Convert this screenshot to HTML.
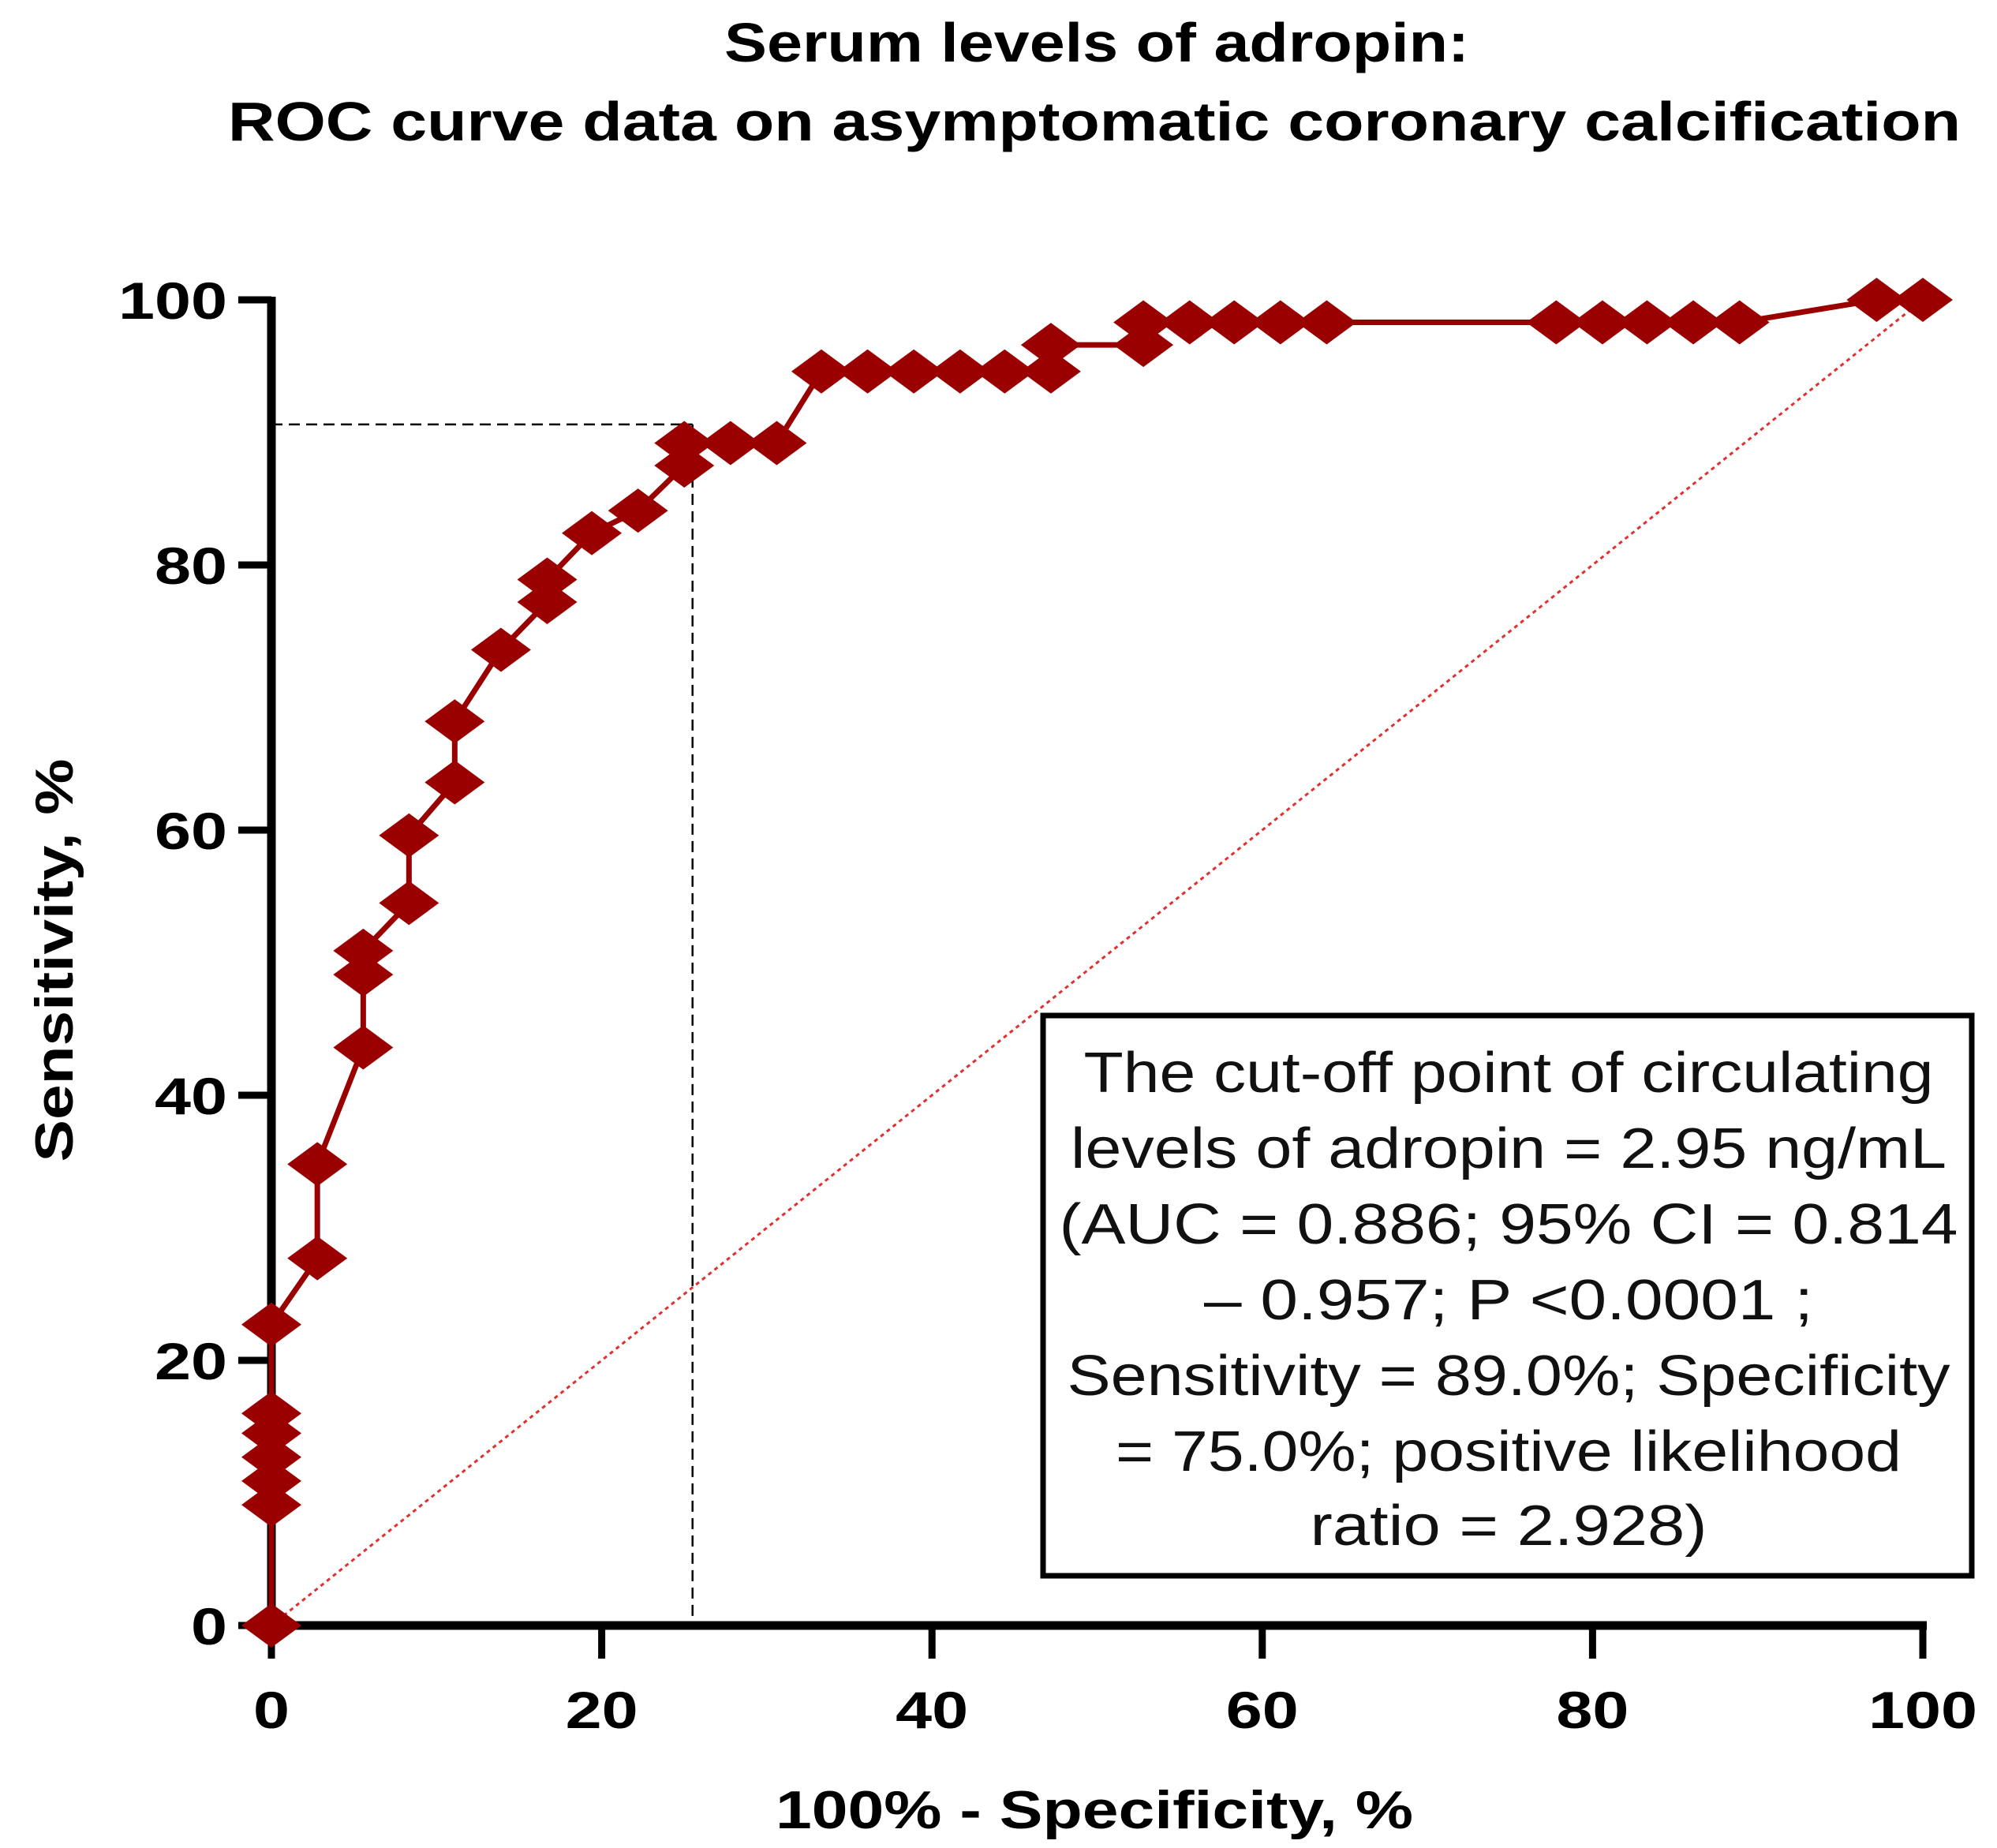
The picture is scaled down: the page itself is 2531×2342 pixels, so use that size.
<!DOCTYPE html>
<html><head><meta charset="utf-8"><style>
html,body{margin:0;padding:0;background:#fff;}
svg{display:block;}
text{font-family:"Liberation Sans",Arial,sans-serif;}
</style></head><body>
<svg id="chart" width="2531" height="2342" viewBox="0 0 2531 2342" xmlns="http://www.w3.org/2000/svg">
<rect width="2531" height="2342" fill="#fff"/>
<g>
<text x="1390" y="78" text-anchor="middle" font-size="70" font-weight="bold" textLength="944" lengthAdjust="spacingAndGlyphs">Serum levels of adropin:</text>
<text x="1387" y="178" text-anchor="middle" font-size="70" font-weight="bold" textLength="2196" lengthAdjust="spacingAndGlyphs">ROC curve data on asymptomatic coronary calcification</text>
</g>
<g id="grid"></g>
<g id="axes"></g>
<g id="marks"></g>
<g>
<rect x="1322" y="1287" width="1177" height="710" fill="#fff" stroke="#000" stroke-width="7"/>
<g font-size="72" text-anchor="middle" fill="#111">
<text x="1912" y="1384" textLength="1077" lengthAdjust="spacingAndGlyphs">The cut-off point of circulating</text>
<text x="1912" y="1480" textLength="1110" lengthAdjust="spacingAndGlyphs">levels of adropin = 2.95 ng/mL</text>
<text x="1912" y="1576" textLength="1139" lengthAdjust="spacingAndGlyphs">(AUC = 0.886; 95% CI = 0.814</text>
<text x="1912" y="1672" textLength="772" lengthAdjust="spacingAndGlyphs">– 0.957; P &lt;0.0001 ;</text>
<text x="1912" y="1768" textLength="1119" lengthAdjust="spacingAndGlyphs">Sensitivity = 89.0%; Specificity</text>
<text x="1912" y="1864" textLength="996" lengthAdjust="spacingAndGlyphs">= 75.0%; positive likelihood</text>
<text x="1912" y="1958" textLength="503" lengthAdjust="spacingAndGlyphs">ratio = 2.928)</text>
</g>
</g>
<text transform="translate(92,1217) rotate(-90)" text-anchor="middle" font-size="68" font-weight="bold" textLength="511" lengthAdjust="spacingAndGlyphs">Sensitivity, %</text>
<text x="1387" y="2317" text-anchor="middle" font-size="68" font-weight="bold" textLength="808" lengthAdjust="spacingAndGlyphs">100% - Specificity, %</text>
</svg>
<script>
const xVals = [0,0,0,0,0,0,0,2.78,2.78,5.56,5.56,5.56,8.33,8.33,11.1,11.1,13.9,16.7,16.7,19.4,22.2,25,25,27.8,30.6,33.3,36.1,38.9,41.7,44.4,47.2,47.2,52.8,52.8,55.6,58.3,61.1,63.9,77.8,80.6,83.3,86.1,88.9,97.2,100];
const yVals = [0,9.1,10.9,12.7,14.5,16.0,22.7,27.7,34.8,43.6,49.1,50.9,54.5,59.6,63.6,68.2,73.6,77.2,78.9,82.4,84.1,87.5,89.2,89.2,89.2,94.6,94.6,94.6,94.6,94.6,94.6,96.6,96.6,98.3,98.3,98.3,98.3,98.3,98.3,98.3,98.3,98.3,98.3,100,100];
const xTicks = [0,20,40,60,80,100];
const yTicks = [0,20,40,60,80,100];
const cutoff = [25.5, 90.6];
const X0=344,X1=2437,Y0=2060,Y1=380;
const sx=v=>X0+(X1-X0)*v/100;
const sy=v=>Y0-(Y0-Y1)*v/100;
const NS='http://www.w3.org/2000/svg';
function mk(tag,attrs,parent){const e=document.createElementNS(NS,tag);for(const k in attrs)e.setAttribute(k,attrs[k]);parent.appendChild(e);return e;}
const axes=document.getElementById('axes'), marks=document.getElementById('marks'), grid=document.getElementById('grid');
let l=mk('line',{x1:sx(0),y1:sy(0),x2:sx(100),y2:sy(100),stroke:'#e03030','stroke-width':3,'stroke-dasharray':'5 5'},grid);


l=mk('line',{x1:sx(0),y1:sy(cutoff[1]),x2:sx(cutoff[0]),y2:sy(cutoff[1]),stroke:'#000','stroke-width':2.5,'stroke-dasharray':'14 8'},grid);


l=mk('line',{x1:sx(cutoff[0]),y1:sy(cutoff[1]),x2:sx(cutoff[0]),y2:sy(0),stroke:'#000','stroke-width':2.5,'stroke-dasharray':'14 8'},grid);


l=mk('line',{x1:X0,y1:Y1-4,x2:X0,y2:Y0+6,stroke:'#000','stroke-width':11},axes);


l=mk('line',{x1:X0-6,y1:Y0,x2:X1+5,y2:Y0,stroke:'#000','stroke-width':11},axes);


yTicks.forEach(v=>{
  const t=mk('line',{x1:X0-42,y1:sy(v),x2:X0,y2:sy(v),stroke:'#000','stroke-width':9},axes);
  
  
  const tx=mk('text',{x:X0-56,y:sy(v)+24,'text-anchor':'end','font-size':66,'font-weight':'bold',textLength:String(v).length*46,lengthAdjust:'spacingAndGlyphs'},axes);
  tx.textContent=v;
  
  
});
xTicks.forEach(v=>{
  const t=mk('line',{x1:sx(v),y1:Y0,x2:sx(v),y2:Y0+42,stroke:'#000','stroke-width':9},axes);
  
  
  const tx=mk('text',{x:sx(v),y:2190,'text-anchor':'middle','font-size':66,'font-weight':'bold',textLength:String(v).length*46,lengthAdjust:'spacingAndGlyphs'},axes);
  tx.textContent=v;
  
  
});
const pts=xVals.map((x,i)=>sx(x)+','+sy(yVals[i])).join(' ');
const pl=mk('polyline',{points:pts,fill:'none',stroke:'#9b0000','stroke-width':7,'stroke-linejoin':'round'},marks);


xVals.forEach((x,i)=>{
  const cx=sx(x),cy=sy(yVals[i]);
  const d=mk('polygon',{points:`${cx-38},${cy} ${cx},${cy-28} ${cx+38},${cy} ${cx},${cy+28}`,fill:'#9b0000'},marks);
  
  
});
</script>
</body></html>
